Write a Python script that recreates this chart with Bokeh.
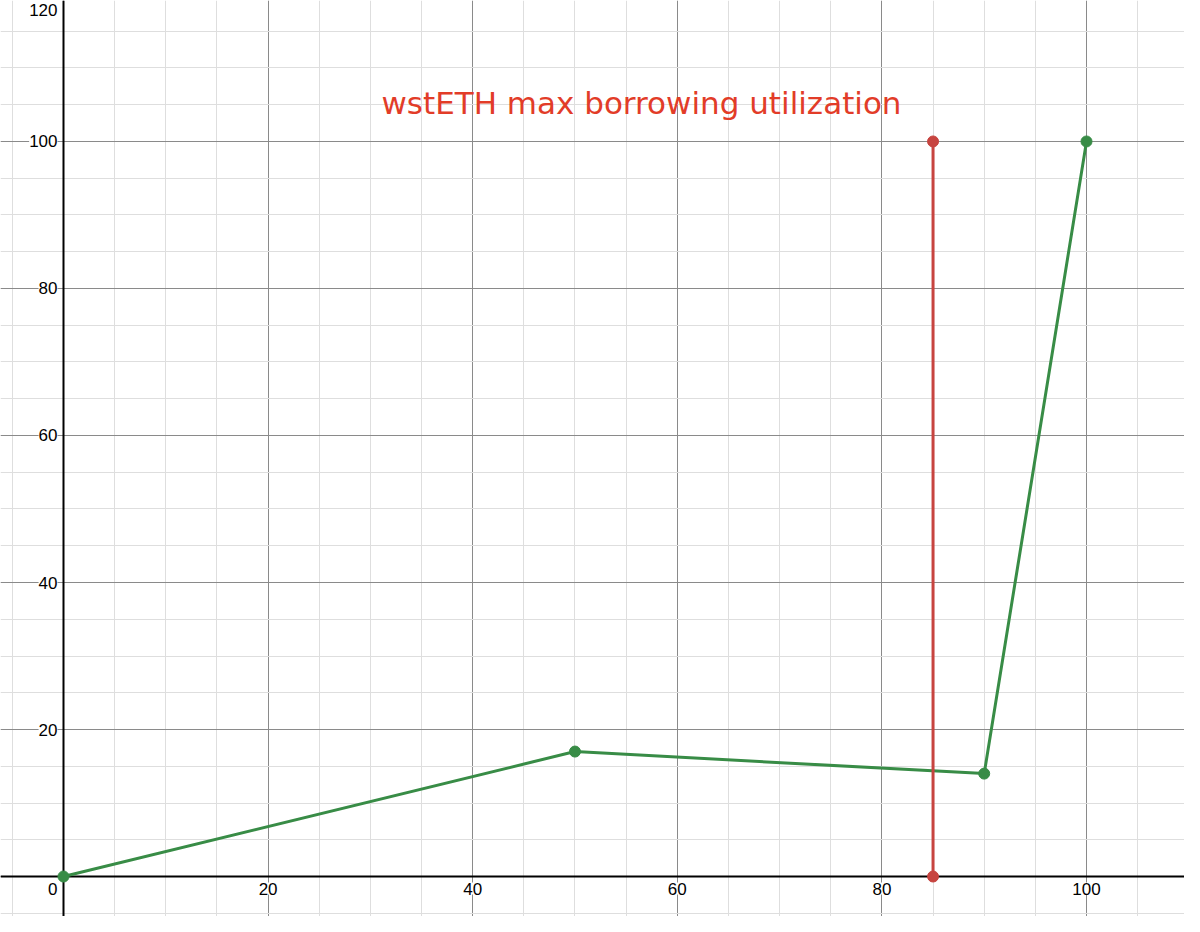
from bokeh.plotting import figure
from bokeh.models import ColumnDataSource, LabelSet, Label, Span, Grid, SingleIntervalTicker, Range1d
from bokeh.core.properties import value
from bokeh.embed import file_html
from bokeh.resources import INLINE

# data
curve_x = [0, 50, 90, 100]
curve_y = [0, 17, 14, 100]
limit_x = [85, 85]
limit_y = [0, 100]
x_ticks = [20, 40, 60, 80, 100]
y_ticks = [20, 40, 60, 80, 100, 120]
title_text = "wstETH max borrowing utilization"

GREEN = "#388c46"
RED = "#c74440"

p = figure(width=1184, height=916,
           x_range=Range1d(-6.158, 109.58), y_range=Range1d(-5.44, 119.18),
           output_backend="svg", toolbar_location=None,
           x_axis_type=None, y_axis_type=None, min_border=0)
p.outline_line_color = None
p.background_fill_color = "white"
p.border_fill_color = "white"

for dim in (0, 1):
    g = Grid(dimension=dim,
             ticker=SingleIntervalTicker(interval=20, num_minor_ticks=4),
             grid_line_color="#8a8a8a", grid_line_width=1,
             minor_grid_line_color="#dedede", minor_grid_line_width=1)
    p.add_layout(g)

p.add_layout(Span(location=0, dimension="width", line_color="black", line_width=2, level="underlay"))
p.add_layout(Span(location=0, dimension="height", line_color="black", line_width=2, level="underlay"))

# labels near the top edge are kept inside the view (as the graphing tool does)
y_label_dy = [0 if v < 120 else -16 for v in y_ticks]
ysrc = ColumnDataSource(dict(x=[0] * len(y_ticks), y=y_ticks, t=[str(v) for v in y_ticks], dy=y_label_dy))
p.add_layout(LabelSet(x="x", y="y", text="t", source=ysrc, x_offset=-6, y_offset="dy",
                      text_align="right", text_baseline="middle",
                      text_font=value("Liberation Sans"), text_font_size=value("17px"),
                      text_color="black", background_fill_color="white"))

xsrc = ColumnDataSource(dict(x=x_ticks, y=[0] * len(x_ticks), t=[str(v) for v in x_ticks]))
p.add_layout(LabelSet(x="x", y="y", text="t", source=xsrc, y_offset=-6,
                      text_align="center", text_baseline="top",
                      text_font=value("Liberation Sans"), text_font_size=value("17px"),
                      text_color="black", background_fill_color="white"))

p.add_layout(Label(x=0, y=0, text="0", x_offset=-6, y_offset=-6,
                   text_align="right", text_baseline="top",
                   text_font="Liberation Sans", text_font_size="17px", text_color="black"))

p.line(curve_x, curve_y, line_color=GREEN, line_width=3)
p.scatter(curve_x, curve_y, size=11, color=GREEN)
p.line(limit_x, limit_y, line_color=RED, line_width=3)
p.scatter(limit_x, limit_y, size=11, color=RED)

p.add_layout(Label(x=56.5, y=105.2, text=title_text, text_align="center", text_baseline="middle",
                   text_font="DejaVu Sans", text_font_size="31px", text_color="#e23c28"))

open("out.html", "w").write(file_html(p, INLINE))
